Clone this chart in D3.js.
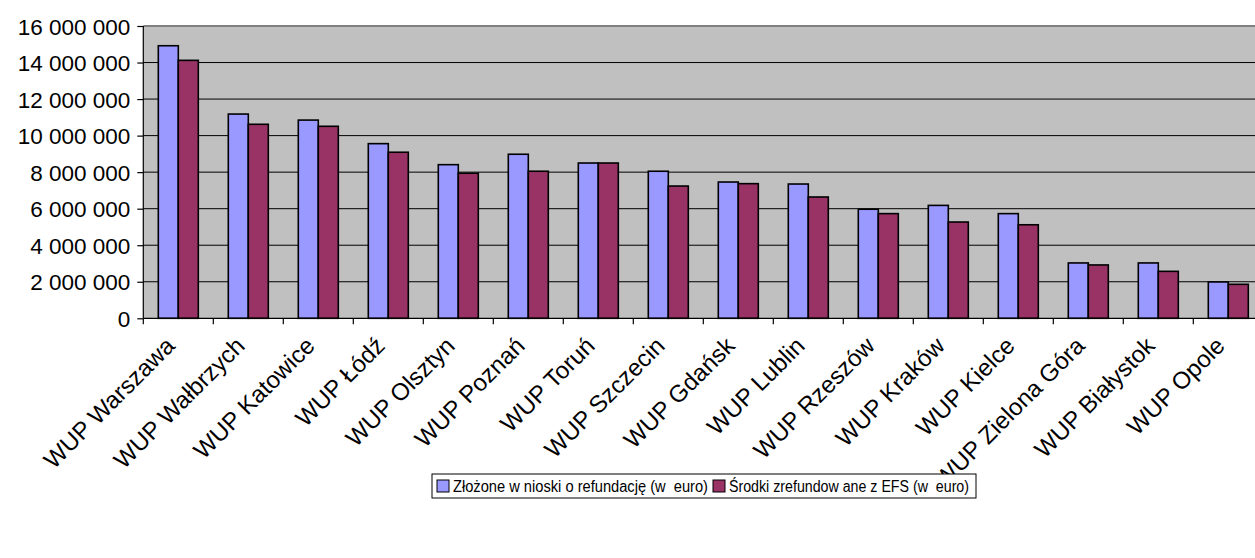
<!DOCTYPE html>
<html><head><meta charset="utf-8">
<script src="https://cdn.jsdelivr.net/npm/d3@7"></script>
<style>html,body{margin:0;padding:0;background:#fff;overflow:hidden}text{font-family:"Liberation Sans",Arial,sans-serif;fill:#000}</style>
</head><body><svg id="c" width="1255" height="558"></svg>
<script>
const categories = ["WUP Warszawa","WUP Wałbrzych","WUP Katowice","WUP Łódź","WUP Olsztyn","WUP Poznań","WUP Toruń","WUP Szczecin","WUP Gdańsk","WUP Lublin","WUP Rzeszów","WUP Kraków","WUP Kielce","WUP Zielona Góra","WUP Białystok","WUP Opole"];
const seriesNames = ["Złożone w nioski o refundację (w  euro)","Środki zrefundow ane z EFS (w  euro)"];
const zlozone = [14920000,11180000,10850000,9560000,8410000,8980000,8500000,8050000,7460000,7350000,5970000,6180000,5730000,3030000,3030000,1990000];
const zrefundowane = [14120000,10620000,10510000,9090000,7940000,8050000,8500000,7240000,7370000,6640000,5730000,5270000,5120000,2920000,2570000,1860000];
const yTicks = [0,2000000,4000000,6000000,8000000,10000000,12000000,14000000,16000000];
const colors = ["#9999FF","#993366"];

const svg = d3.select("#c");
const L = 143.3, R = 1263.3, T = 26, B = 318.3;
const x0 = d3.scaleBand().domain(categories).range([L, R]).paddingInner(0).paddingOuter(0);
const x1 = d3.scaleBand().domain([0,1]).range([15, 55]);
const y = d3.scaleLinear().domain([0, 16000000]).range([B, T]);
const loc = d3.formatLocale({decimal:",", thousands:"\u00a0", grouping:[3], currency:["",""]});
const fmt = loc.format(",");

svg.append("rect").attr("x", L).attr("y", T).attr("width", R - L).attr("height", B - T).attr("fill", "#C0C0C0");
svg.append("g").selectAll("line").data(yTicks.filter(d => d > 0 && d < 16000000)).join("line")
  .attr("x1", L).attr("x2", R).attr("y1", d => y(d)).attr("y2", d => y(d))
  .attr("stroke", "#000").attr("stroke-width", 1);
svg.append("line").attr("x1", L).attr("x2", R).attr("y1", T).attr("y2", T).attr("stroke", "#808080").attr("stroke-width", 2);

const data = categories.map((c, i) => ({c, v: [zlozone[i], zrefundowane[i]]}));
const g = svg.append("g").selectAll("g").data(data).join("g").attr("transform", d => `translate(${x0(d.c)},0)`);
g.selectAll("rect").data(d => d.v.map((v, k) => ({v, k}))).join("rect")
  .attr("x", d => x1(d.k)).attr("width", x1.bandwidth())
  .attr("y", d => y(d.v)).attr("height", d => B - y(d.v))
  .attr("fill", d => colors[d.k]).attr("stroke", "#000").attr("stroke-width", 1.6);

const ya = svg.append("g").attr("transform", `translate(${L},0)`)
  .call(d3.axisLeft(y).tickValues(yTicks).tickFormat(fmt).tickSize(6).tickPadding(7));
ya.select(".domain").attr("stroke", "#000").attr("stroke-width", 1.2).attr("d", `M0,${T}V${B}`);
ya.selectAll("line").attr("stroke", "#000").attr("stroke-width", 1.2);
ya.selectAll("text").attr("font-size", "22.5px").attr("dy", "0.36em").style("font-family", '"Liberation Sans",Arial,sans-serif');

const xa = svg.append("g").attr("transform", `translate(0,${B})`);
xa.append("line").attr("x1", L).attr("x2", R).attr("stroke", "#000").attr("stroke-width", 1.2);
xa.selectAll("line.t").data(d3.range(categories.length + 1)).join("line").attr("class", "t")
  .attr("x1", i => L + i * x0.step()).attr("x2", i => L + i * x0.step()).attr("y1", 0).attr("y2", 6)
  .attr("stroke", "#000").attr("stroke-width", 1.2);
xa.selectAll("text").data(categories).join("text")
  .attr("transform", d => `translate(${x0(d) + x0.bandwidth() / 2 - 2},${29}) rotate(-45)`)
  .attr("text-anchor", "end").attr("font-size", "24px").text(d => d);

const lg = svg.append("g");
const lx = 432, ly = 474, lh = 24;
const widths = [255, 240];
let cx = lx + 5;
seriesNames.forEach((n, k) => {
  lg.append("rect").attr("x", cx).attr("y", ly + 6).attr("width", 12).attr("height", 12)
    .attr("fill", colors[k]).attr("stroke", "#000").attr("stroke-width", 1);
  lg.append("text").attr("x", cx + 16).attr("y", ly + 18).attr("font-size", "16px")
    .style("white-space", "pre").attr("textLength", widths[k]).attr("lengthAdjust", "spacingAndGlyphs").text(n);
  cx = cx + 16 + widths[k] + 5;
});
lg.insert("rect", ":first-child").attr("x", lx).attr("y", ly).attr("width", cx - lx + 2).attr("height", lh)
  .attr("fill", "#fff").attr("stroke", "#000").attr("stroke-width", 1);
</script></body></html>
